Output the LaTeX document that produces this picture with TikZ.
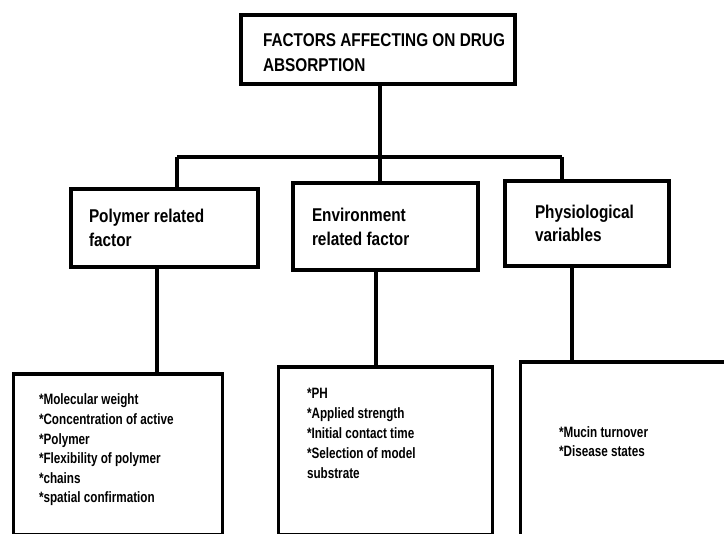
\documentclass[tikz,border=0pt]{standalone}
\usepackage{fontspec}
\setmainfont{Liberation Sans}
\newfontfamily\headfont[FakeStretch=0.83]{Liberation Sans}
\newfontfamily\itemfont[FakeStretch=0.78]{Liberation Sans}
\newcommand{\txtstack}[2]{\vtop{\baselineskip=#1\relax\lineskiplimit=-100pt\lineskip=0pt\halign{##\hfil\cr#2\crcr}}}
\tikzset{
  box/.style={draw=black, line width=4pt, fill=white, rectangle, inner sep=0pt, outer sep=0pt},
  itembox/.style={draw=black, line width=3.4pt, fill=white, rectangle, inner sep=0pt, outer sep=0pt},
  conn/.style={draw=black, line width=3.5pt},
  hd/.style={inner sep=0pt, outer sep=0pt, anchor=base west, font=\headfont\bfseries\fontsize{18.5}{24}\selectfont},
  it/.style={inner sep=0pt, outer sep=0pt, anchor=base west, font=\itemfont\bfseries\fontsize{15}{19.6}\selectfont}
}
\begin{document}
\begin{tikzpicture}[x=1pt,y=-1pt]
\useasboundingbox (0,0) rectangle (724,534);
\fill[white] (0,0) rectangle (724,534);
\clip (0,0) rectangle (724,534);
% coordinates for connector routing
\coordinate (hub) at (380,157);
\coordinate (busL) at (177,157);
\coordinate (busR) at (562,157);
\coordinate (d1) at (157,300);
\coordinate (d2) at (376,300);
\coordinate (d3) at (572,300);
% boxes
\node[box, minimum width=274.5pt, minimum height=68.7pt] (top) at (377.75,49.65) {};
\node[box, minimum width=187pt, minimum height=78pt] (poly) at (164.5,228) {};
\node[box, minimum width=185pt, minimum height=87.6pt] (env) at (385.5,226.5) {};
\node[box, minimum width=164.6pt, minimum height=84.7pt] (phys) at (587,223.65) {};
\node[itembox, minimum width=209pt, minimum height=160.5pt] (b1) at (118,454.25) {};
\node[itembox, minimum width=214pt, minimum height=167.5pt] (b2) at (385.5,450.75) {};
\node[itembox, minimum width=224.5pt, minimum height=198pt] (b3) at (632.75,461) {};
% connectors
\draw[conn] (top.south -| hub) -- (hub);
\draw[conn] (busL) -- (busR);
\draw[conn] (busL) -- (busL |- poly.north);
\draw[conn] (hub) -- (hub |- env.north);
\draw[conn] (busR) -- (busR |- phys.north);
\draw[conn] (poly.south -| d1) -- (b1.north -| d1);
\draw[conn] (env.south -| d2) -- (b2.north -| d2);
\draw[conn] (phys.south -| d3) -- (b3.north -| d3);
% texts
\node[hd] (ttl) at (263,46.7) {\txtstack{25pt}{FACTORS AFFECTING ON DRUG\cr ABSORPTION}};
\node[hd] (tpoly) at (89,222.7) {\txtstack{24pt}{Polymer related\cr factor}};
\node[hd] (tenv) at (312,221.7) {\txtstack{24.3pt}{Environment\cr related factor}};
\node[hd] (tphys) at (535,218.3) {\txtstack{23.4pt}{Physiological\cr variables}};
\node[it] (t1) at (39,405) {\txtstack{19.6pt}{*Molecular weight\cr *Concentration of active\cr *Polymer\cr *Flexibility of polymer\cr *chains\cr *spatial confirmation}};
\node[it] (t2) at (307,399) {\txtstack{19.8pt}{*PH\cr *Applied strength\cr *Initial contact time\cr *Selection of model\cr substrate}};
\node[it] (t3) at (559,438) {\txtstack{19pt}{*Mucin turnover\cr *Disease states}};
\end{tikzpicture}
\end{document}
